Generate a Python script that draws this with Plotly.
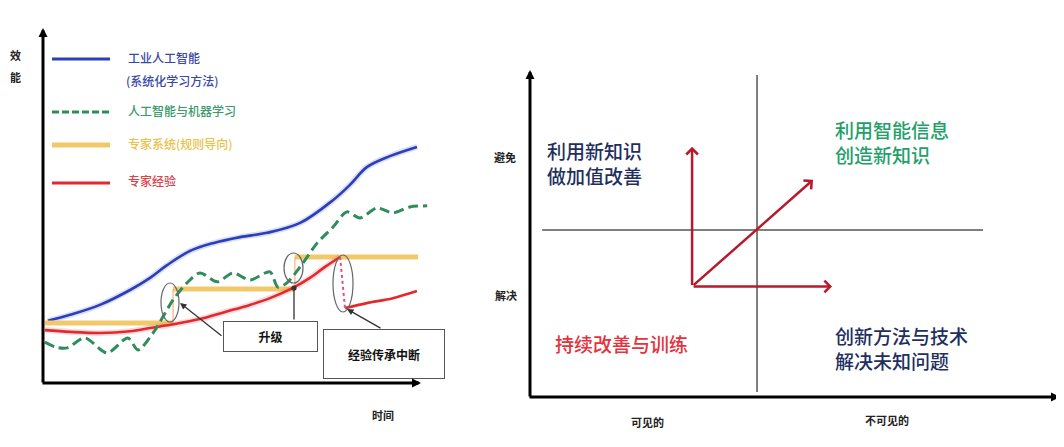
import plotly.graph_objects as go

# page body has an 8px default margin; the figure is sized to fill the rest of the window
OFF = 8
W, H = 1064 - OFF, 447 - OFF
FONT = "Noto Sans CJK SC"

# ---------------- Left chart data (x: 时间, y: 效能) ----------------
blue_x = [1.3, 7.2, 15.1, 23.1, 28.4, 32.9, 39.0, 45.1, 52.3, 59.4, 68.2, 76.9, 81.4, 85.9, 92.0, 99.2]
blue_y = [17.5, 19.2, 22.0, 26.2, 29.6, 33.2, 37.2, 39.4, 41.1, 42.3, 45.1, 51.5, 55.8, 60.8, 63.9, 66.5]

green_x = [0.5, 3.4, 6.4, 11.1, 17.0, 22.5, 25.2, 29.2, 34.5, 38.2, 41.6, 46.2, 50.4, 54.9,
           60.2, 62.3, 64.7, 68.2, 72.7, 76.9, 80.6, 84.1, 88.6, 92.8, 97.3, 101.9]
green_y = [11.5, 10.1, 9.9, 12.7, 8.5, 12.7, 9.3, 14.1, 23.4, 28.2, 31.0, 28.5, 31.0, 29.0,
           31.3, 27.0, 28.2, 32.7, 39.4, 43.9, 48.2, 46.5, 49.3, 47.9, 49.6, 49.9]

yellow_breaks = [0.5, 34.5, 66.8, 99.5]
yellow_levels = [16.9, 26.5, 35.5]

red_x = [0.5, 7.2, 15.1, 23.1, 28.4, 35.0, 41.6, 48.3, 54.9, 60.2, 66.3, 70.8, 74.8, 78.8]
red_y = [14.9, 14.4, 14.1, 14.6, 15.5, 16.6, 18.0, 20.0, 22.0, 23.9, 26.8, 29.6, 32.7, 35.5]
red_drop_x = [78.8, 80.1]
red_drop_y = [35.5, 21.1]
red2_x = [80.1, 85.9, 92.8, 99.2]
red2_y = [21.1, 22.5, 23.9, 25.9]

legend_labels = ["工业人工智能", "人工智能与机器学习", "专家系统(规则导向)", "专家经验"]
legend_sub = "(系统化学习方法)"
callouts = ["升级", "经验传承中断"]

# ---------------- Right chart data (quadrant) ----------------
divider_v_x = [43.0, 43.0]
divider_v_y = [1.5, 98.5]
divider_h_x = [2.3, 85.8]
divider_h_y = [51.1, 51.1]
arrow_origin = (30.7, 33.8)
arrow_tip_x = [30.7, 57.2, 53.6]
arrow_tip_y = [76.5, 33.8, 66.4]
quad_texts = ["利用新知识<br>做加值改善", "利用智能信息<br>创造新知识",
              "持续改善与训练", "创新方法与技术<br>解决未知问题"]
axis_words = ["避免", "解决", "可见的", "不可见的"]

C_BLUE = "#2b3fb8"
C_GREEN = "#2f8c5c"
C_YELLOW = "#f2c96a"
C_RED = "#e3282e"


def px(x):
    return (x - OFF) / W


def py(y):
    return 1 - (y - OFF) / H


fig = go.Figure()

# left curves
fig.add_trace(go.Scatter(x=blue_x, y=blue_y, mode="lines", line=dict(color="rgba(60,80,220,0.18)", width=6, shape="spline"), xaxis="x", yaxis="y", hoverinfo="skip"))
fig.add_trace(go.Scatter(x=blue_x, y=blue_y, mode="lines", line=dict(color=C_BLUE, width=2.6, shape="spline"), xaxis="x", yaxis="y"))

ys_x, ys_y, st_x, st_y = [], [], [], []
for i, lv in enumerate(yellow_levels):
    ys_x += [yellow_breaks[i], yellow_breaks[i + 1], None]
    ys_y += [lv, lv, None]
    if i > 0:
        st_x += [yellow_breaks[i], yellow_breaks[i], None]
        st_y += [yellow_levels[i - 1], lv, None]
fig.add_trace(go.Scatter(x=ys_x, y=ys_y, mode="lines", line=dict(color=C_YELLOW, width=5), xaxis="x", yaxis="y"))
fig.add_trace(go.Scatter(x=st_x, y=st_y, mode="lines", line=dict(color="rgba(240,170,110,0.7)", width=1.5), xaxis="x", yaxis="y"))

fig.add_trace(go.Scatter(x=red_x, y=red_y, mode="lines", line=dict(color="rgba(240,80,80,0.2)", width=6, shape="spline"), xaxis="x", yaxis="y"))
fig.add_trace(go.Scatter(x=red_x, y=red_y, mode="lines", line=dict(color=C_RED, width=2.6, shape="spline"), xaxis="x", yaxis="y"))
fig.add_trace(go.Scatter(x=red2_x, y=red2_y, mode="lines", line=dict(color=C_RED, width=2.6, shape="spline"), xaxis="x", yaxis="y"))
fig.add_trace(go.Scatter(x=red_drop_x, y=red_drop_y, mode="lines", line=dict(color="#e0507a", width=2, dash="dot"), xaxis="x", yaxis="y"))

fig.add_trace(go.Scatter(x=green_x, y=green_y, mode="lines", line=dict(color=C_GREEN, width=3, dash="10px,5px", shape="spline", smoothing=0.8), xaxis="x", yaxis="y"))

# right dividers
fig.add_trace(go.Scatter(x=divider_v_x, y=divider_v_y, mode="lines", line=dict(color="#555555", width=1.5), xaxis="x2", yaxis="y2"))
fig.add_trace(go.Scatter(x=divider_h_x, y=divider_h_y, mode="lines", line=dict(color="#555555", width=1.5), xaxis="x2", yaxis="y2"))

shapes = []
anns = []


def text_ann(text, x, y, size, color, xanchor="center", weight="normal"):
    return dict(text=text, xref="paper", yref="paper", x=px(x), y=py(y), xanchor=xanchor, yanchor="middle",
                showarrow=False, align="left" if xanchor == "left" else "center",
                font=dict(family=FONT, size=size, color=color, weight=weight))


# legend samples and labels
leg_rows = [(59, C_BLUE, 3, "solid"), (112, C_GREEN, 3, "7px,3px"), (145, C_YELLOW, 5, "solid"), (183, C_RED, 3, "solid")]
leg_colors = ["#3a48a8", "#3a9a6a", "#e9c24a", "#e0404a"]
for (yy, col, wd, ds), lab, tc in zip(leg_rows, legend_labels, leg_colors):
    shapes.append(dict(type="line", xref="paper", yref="paper", x0=px(52), x1=px(110), y0=py(yy), y1=py(yy),
                       line=dict(color=col, width=wd, dash=ds)))
    anns.append(text_ann(lab, 126, yy - 2, 12, tc, "left", weight=500))
anns.append(text_ann(legend_sub, 124, 80, 12, "#3a48a8", "left", weight=500))

# ellipses
for x0, y0, x1, y1 in [(161, 283, 179, 322), (284, 253, 303, 283), (333, 255, 353, 312)]:
    shapes.append(dict(type="circle", xref="paper", yref="paper", x0=px(x0), x1=px(x1), y0=py(y1), y1=py(y0),
                       line=dict(color="#666666", width=1.2)))

# callout boxes
anns.append(dict(text="<b>" + callouts[0] + "</b>", xref="paper", yref="paper", x=px(270), y=py(336),
                 xanchor="center", yanchor="middle", showarrow=False,
                 width=93, height=29, borderpad=0, bordercolor="#555555", borderwidth=1, bgcolor="white",
                 font=dict(family=FONT, size=12, color="#111")))
anns.append(dict(text="<b>" + callouts[1] + "</b>", xref="paper", yref="paper", x=px(383.5), y=py(353.5),
                 xanchor="center", yanchor="middle", showarrow=False,
                 width=120, height=48, borderpad=0, bordercolor="#555555", borderwidth=1, bgcolor="white",
                 font=dict(family=FONT, size=12, color="#111")))

# callout pointers (head, tail in pixels)
for (hx, hy), (tx, ty), head in [((180, 303), (223, 337), 2), ((294, 288), (294, 321), 6), ((347, 309), (382, 329), 2)]:
    anns.append(dict(text="", xref="paper", yref="paper", x=px(hx), y=py(hy), ax=tx - hx, ay=ty - hy,
                     showarrow=True, arrowhead=head, arrowsize=1, arrowwidth=1.3, arrowcolor="#333333", standoff=0))

# axis arrows (left and right)
for (hx, hy), (tx, ty) in [((43, 28), (43, 384)), ((421, 383), (41, 383)), ((530, 70), (530, 398)), ((1060, 397), (528, 397))]:
    anns.append(dict(text="", xref="paper", yref="paper", x=px(hx), y=py(hy), ax=tx - hx, ay=ty - hy,
                     showarrow=True, arrowhead=2, arrowsize=0.6, arrowwidth=3, arrowcolor="#000000", standoff=0))

# red arrows (right)
for tx, ty in zip(arrow_tip_x, arrow_tip_y):
    anns.append(dict(text="", xref="x2", yref="y2", axref="x2", ayref="y2", x=tx, y=ty, ax=arrow_origin[0], ay=arrow_origin[1],
                     showarrow=True, arrowhead=4, arrowsize=0.9, arrowwidth=2.5, arrowcolor="#b8192c", standoff=0))

# left axis words
for t, (x, y) in zip(["效", "能", "时间"], [(15, 55), (15, 77), (383, 415)]):
    anns.append(text_ann("<b>" + t + "</b>", x, y, 11, "#222"))

# right axis words
for t, (x, y) in zip(axis_words, [(505, 157), (506, 295), (647, 422), (887, 420)]):
    anns.append(text_ann("<b>" + t + "</b>", x, y, 11, "#222"))

# quadrant texts
q_pos = [(545, 163.5), (833, 141.5), (553, 343), (833, 347.5)]
q_col = ["#1f2f5e", "#23a06a", "#e5323c", "#1f2f5e"]
for t, (x, y), col in zip(quad_texts, q_pos, q_col):
    anns.append(text_ann(t, x, y, 19, col, "left", weight=500))

fig.update_layout(
    width=W, height=H, autosize=False,
    margin=dict(l=0, r=0, t=0, b=0),
    paper_bgcolor="white", plot_bgcolor="white",
    showlegend=False,
    xaxis=dict(domain=[px(43), px(430)], range=[0, 102.65], visible=False, anchor="y"),
    yaxis=dict(domain=[py(383), py(28)], range=[0, 100], visible=False, anchor="x"),
    xaxis2=dict(domain=[px(530), px(1058)], range=[0, 100], visible=False, anchor="y2"),
    yaxis2=dict(domain=[py(397), py(70)], range=[0, 100], visible=False, anchor="x2"),
    shapes=shapes, annotations=anns,
    font=dict(family=FONT),
)

fig.write_html("out.html")
